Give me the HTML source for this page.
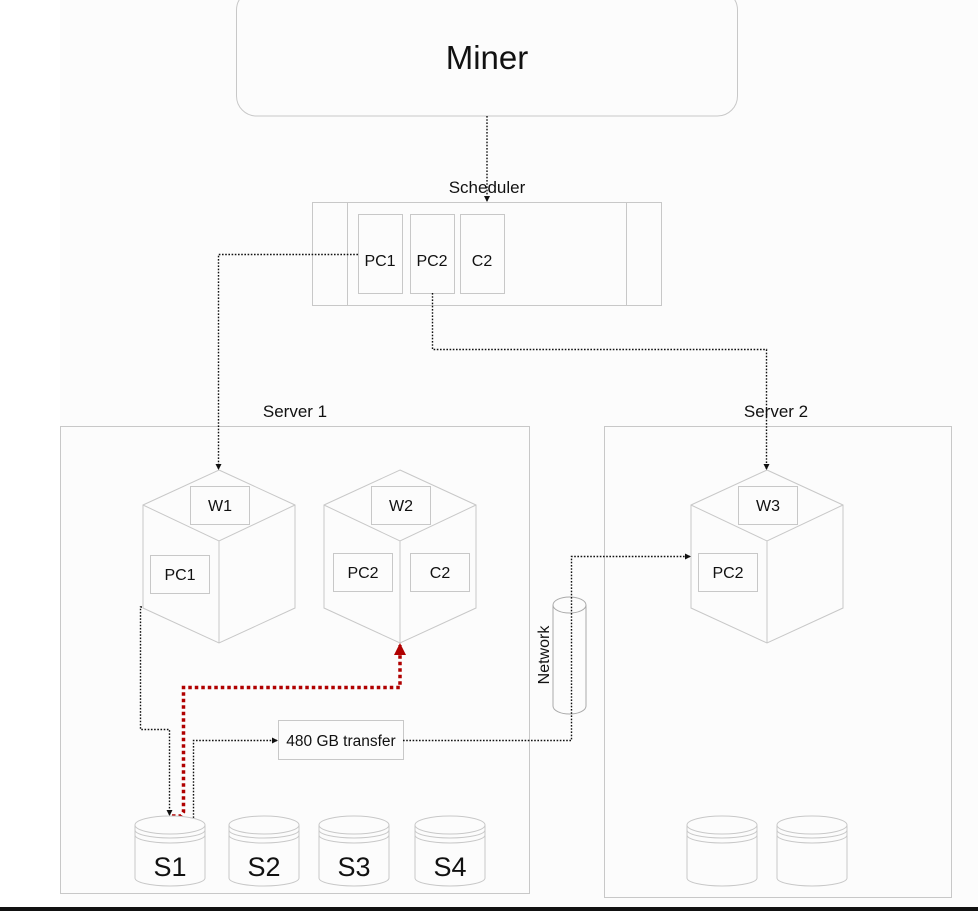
<!DOCTYPE html>
<html><head><meta charset="utf-8"><style>
html,body{margin:0;padding:0;width:978px;height:911px;overflow:hidden;background:#fff}
svg{display:block}
text{font-family:"Liberation Sans",sans-serif;fill:#111}
</style></head><body>
<svg width="978" height="911" viewBox="0 0 978 911" xmlns="http://www.w3.org/2000/svg">
<defs>
<marker id="ah" markerWidth="6" markerHeight="6" refX="5" refY="3" orient="auto" markerUnits="userSpaceOnUse"><path d="M0,0 L6,3 L0,6 Z" fill="#111"/></marker>
<marker id="ahr" markerWidth="12" markerHeight="12" refX="10" refY="6" orient="auto" markerUnits="userSpaceOnUse"><path d="M0,0 L12,6 L0,12 Z" fill="#b00000"/></marker>
<g id="cyl">
<path d="M0,9 L0,62 A35,8 0 0 0 70,62 L70,9" fill="#fcfcfc" stroke="#c8c8c8"/>
<ellipse cx="35" cy="9" rx="35" ry="9" fill="#fcfcfc" stroke="#c8c8c8"/>
<path d="M0,14 A35,8 0 0 0 70,14 M0,19 A35,8 0 0 0 70,19" fill="none" stroke="#c8c8c8"/>
</g>
<g id="cube">
<path d="M0,0 L76,35 L76,138 L0,173 L-76,138 L-76,35 Z M-76,35 L0,71 L76,35 M0,71 L0,173" fill="#fcfcfc" stroke="#c8c8c8"/>
</g>
</defs>
<rect x="60" y="0" width="918" height="911" fill="#fcfcfc"/>
<rect x="0" y="907" width="978" height="4" fill="#111"/>
<g stroke-linecap="butt">
<!-- Miner -->
<rect x="236.5" y="-10" width="501" height="126" rx="20" fill="#fcfcfc" stroke="#c8c8c8"/>
<text x="487" y="69" font-size="33" text-anchor="middle">Miner</text>
<line x1="487" y1="116" x2="487" y2="201" stroke="#111" stroke-width="1.4" stroke-dasharray="1.6,1.6" marker-end="url(#ah)"/>

<!-- Scheduler -->
<text x="487" y="193" font-size="17" text-anchor="middle">Scheduler</text>
<rect x="312.5" y="202.5" width="349" height="103" fill="none" stroke="#c8c8c8"/>
<line x1="347.5" y1="202" x2="347.5" y2="305" stroke="#c8c8c8"/>
<line x1="626.5" y1="202" x2="626.5" y2="305" stroke="#c8c8c8"/>
<rect x="358.5" y="214.5" width="44" height="79" fill="none" stroke="#c8c8c8"/>
<rect x="410.5" y="214.5" width="44" height="79" fill="none" stroke="#c8c8c8"/>
<rect x="460.5" y="214.5" width="44" height="79" fill="none" stroke="#c8c8c8"/>
<text x="380" y="266" font-size="16" text-anchor="middle">PC1</text>
<text x="432" y="266" font-size="16" text-anchor="middle">PC2</text>
<text x="482" y="266" font-size="16" text-anchor="middle">C2</text>

<!-- Servers -->
<text x="295" y="417" font-size="17" text-anchor="middle">Server 1</text>
<rect x="60.5" y="426.5" width="469" height="467" fill="none" stroke="#c8c8c8"/>
<text x="776" y="417" font-size="17" text-anchor="middle">Server 2</text>
<rect x="604.5" y="426.5" width="347" height="471" fill="none" stroke="#c8c8c8"/>

<!-- cubes -->
<use href="#cube" x="219" y="470"/>
<use href="#cube" x="400" y="470"/>
<use href="#cube" x="767" y="470"/>
<rect x="190.5" y="486.5" width="59" height="38" fill="#fcfcfc" stroke="#c8c8c8"/>
<text x="220" y="511" font-size="16" text-anchor="middle">W1</text>
<rect x="150.5" y="555.5" width="59" height="38" fill="#fcfcfc" stroke="#c8c8c8"/>
<text x="180" y="580" font-size="16" text-anchor="middle">PC1</text>
<rect x="371.5" y="486.5" width="59" height="38" fill="#fcfcfc" stroke="#c8c8c8"/>
<text x="401" y="511" font-size="16" text-anchor="middle">W2</text>
<rect x="333.5" y="553.5" width="59" height="38" fill="#fcfcfc" stroke="#c8c8c8"/>
<text x="363" y="578" font-size="16" text-anchor="middle">PC2</text>
<rect x="410.5" y="553.5" width="59" height="38" fill="#fcfcfc" stroke="#c8c8c8"/>
<text x="440" y="578" font-size="16" text-anchor="middle">C2</text>
<rect x="738.5" y="486.5" width="59" height="38" fill="#fcfcfc" stroke="#c8c8c8"/>
<text x="768" y="511" font-size="16" text-anchor="middle">W3</text>
<rect x="698.5" y="553.5" width="59" height="38" fill="#fcfcfc" stroke="#c8c8c8"/>
<text x="728" y="578" font-size="16" text-anchor="middle">PC2</text>

<!-- Scheduler connectors -->
<polyline points="358,254.5 218.5,254.5 218.5,469" fill="none" stroke="#111" stroke-width="1.4" stroke-dasharray="1.6,1.6" marker-end="url(#ah)"/>
<polyline points="432.5,293 432.5,349.5 766.5,349.5 766.5,469" fill="none" stroke="#111" stroke-width="1.4" stroke-dasharray="1.6,1.6" marker-end="url(#ah)"/>

<!-- Network -->
<path d="M553,605 L553,706 A16.5,8 0 0 0 586,706 L586,605" fill="#fcfcfc" stroke="#aaa"/>
<ellipse cx="569.5" cy="605" rx="16.5" ry="8" fill="#fcfcfc" stroke="#aaa"/>
<text transform="translate(549,655) rotate(-90)" font-size="16" text-anchor="middle">Network</text>

<!-- transfer -->
<rect x="278.5" y="720.5" width="125" height="39" fill="#fcfcfc" stroke="#c8c8c8"/>
<text x="341" y="746" font-size="15.5" text-anchor="middle">480 GB transfer</text>
<polyline points="193.5,818 193.5,740.5 277,740.5" fill="none" stroke="#111" stroke-width="1.4" stroke-dasharray="1.6,1.6" marker-end="url(#ah)"/>
<polyline points="403,740.5 571.5,740.5 571.5,556.5 690,556.5" fill="none" stroke="#111" stroke-width="1.4" stroke-dasharray="1.6,1.6" marker-end="url(#ah)"/>
<polyline points="142,607 140.5,607 140.5,729.5 169.5,729.5 169.5,815" fill="none" stroke="#111" stroke-width="1.4" stroke-dasharray="1.6,1.6" marker-end="url(#ah)"/>

<!-- red -->
<polyline points="172,816 181,816 183.5,812 183.5,687.5 400,687.5 400,645" fill="none" stroke="#b00000" stroke-width="3.5" stroke-dasharray="3.5,3" marker-end="url(#ahr)"/>

<!-- storage -->
<use href="#cyl" x="135" y="816"/>
<use href="#cyl" x="229" y="816"/>
<use href="#cyl" x="319" y="816"/>
<use href="#cyl" x="415" y="816"/>
<use href="#cyl" x="687" y="816"/>
<use href="#cyl" x="777" y="816"/>
<text x="170" y="876" font-size="27" text-anchor="middle">S1</text>
<text x="264" y="876" font-size="27" text-anchor="middle">S2</text>
<text x="354" y="876" font-size="27" text-anchor="middle">S3</text>
<text x="450" y="876" font-size="27" text-anchor="middle">S4</text>
</g>
</svg>
</body></html>
